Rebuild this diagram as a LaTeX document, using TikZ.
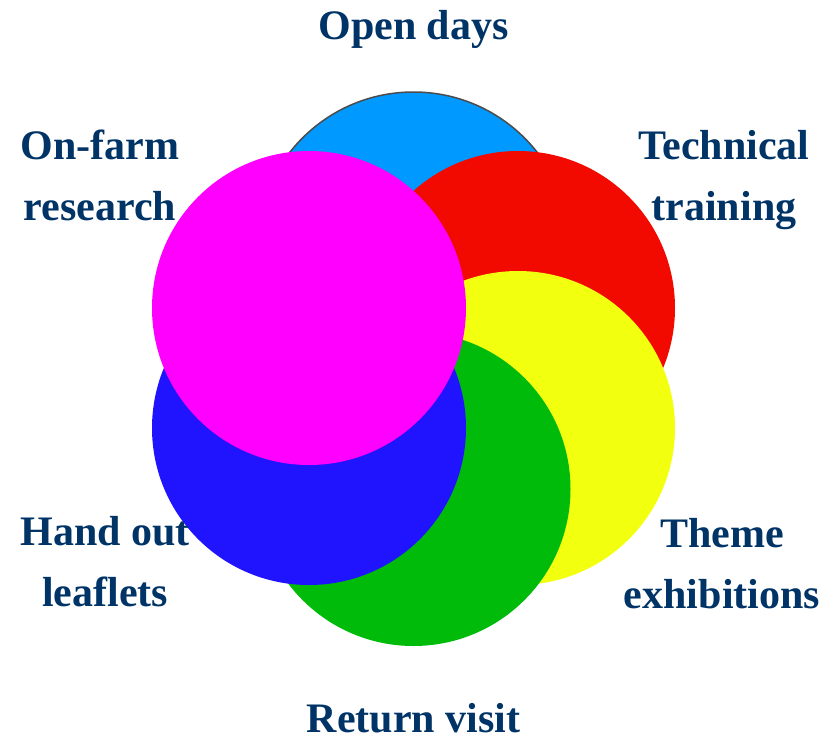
\documentclass[tikz,border=0pt]{standalone}
\usepackage{fontspec}
\setmainfont{Liberation Serif}
\usepackage{xcolor}
\usepackage{tikz}
\usetikzlibrary{positioning}
\definecolor{skyblue}{RGB}{0,153,255}
\definecolor{hotred}{RGB}{242,10,0}
\definecolor{lemon}{RGB}{242,255,15}
\definecolor{grassgreen}{RGB}{0,187,10}
\definecolor{deepblue}{RGB}{32,20,255}
\definecolor{vividmagenta}{RGB}{255,0,255}
\definecolor{labelnavy}{RGB}{0,51,102}

\begin{document}
\begin{tikzpicture}[x=1pt,y=-1pt,
    lbl/.style={text=labelnavy,align=center,inner sep=0pt,
      font=\fontsize{42}{61}\selectfont\bfseries}]

\useasboundingbox (0,0) rectangle (836,737);

% === Circles, back to front ===
\fill[skyblue] (413.5,249) circle[radius=157pt];
\draw[gray!60!black,line width=1.5pt] (413.5,249) circle[radius=157pt];
\foreach \cx/\cy/\col in {518/308/hotred,518/428/lemon,413.5/489/grassgreen,309/428/deepblue,309/308/vividmagenta}
    \fill[\col] (\cx,\cy) circle[radius=157pt];

% === Labels (base = last line) ===
\node[lbl,anchor=base] (open) at (413.5,39) {Open days};
\node[lbl,anchor=base] (onfarm) at (100,220) {On-farm\\research};
\node[lbl,anchor=base] (technical) at (724,220) {Technical\\training};
\node[lbl,anchor=base] (theme) at (722,608) {Theme\\exhibitions};
\node[lbl,anchor=base] (handout) at (105,606) {Hand out\\leaflets};
\node[lbl,anchor=base] (return) at (413.5,732) {Return visit};

\end{tikzpicture}
\end{document}
